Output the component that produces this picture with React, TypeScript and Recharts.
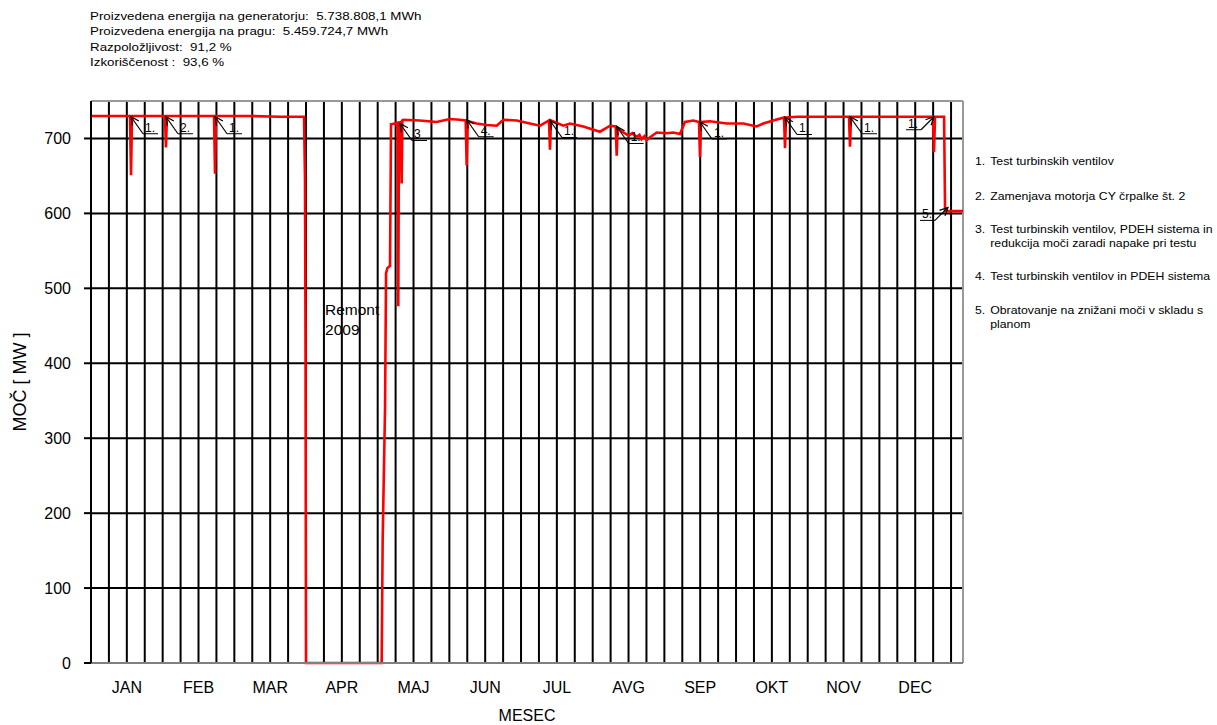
import { LineChart, Line, XAxis, YAxis, CartesianGrid, ReferenceLine, ReferenceDot } from 'recharts'

const MONTHS = ['JAN', 'FEB', 'MAR', 'APR', 'MAJ', 'JUN', 'JUL', 'AVG', 'SEP', 'OKT', 'NOV', 'DEC']
const Y_TICKS = [0, 100, 200, 300, 400, 500, 600, 700]

// hour of the year -> power on generator (MW)
const HOURS = [
  0, 200, 392, 402, 412, 600, 743, 753, 763, 1000, 1236, 1246, 1256, 1600, 1900, 2140, 2150, 2155, 2160,
  2920, 2930, 2954, 2964, 2977, 3004, 3014, 3050, 3080, 3087, 3094, 3110, 3121, 3128, 3137,
  3304, 3473, 3604, 3704, 3764, 3774, 3784, 3875, 3975, 4076, 4142, 4277, 4410, 4511, 4601, 4611, 4621,
  4745, 4812, 4946, 5113, 5214, 5271, 5281, 5291, 5347, 5400, 5440, 5481, 5510, 5530, 5560, 5582, 5610, 5630,
  5683, 5783, 5850, 5917, 5967, 6051, 6108, 6118, 6128, 6218, 6386, 6553, 6687, 6754, 6854, 6962, 6972, 6982,
  7100, 7391, 7615, 7625, 7635, 8057, 8459, 8469, 8479, 8570, 8580, 8760,
]
const POWER = [
  730, 730, 730, 651, 730, 730, 730, 688, 730, 730, 730, 653, 730, 730, 729, 729, 645, 430, 0,
  0, 164, 341, 520, 527, 530, 719, 720, 721, 476, 721, 722, 640, 724, 725,
  724, 722, 726, 725, 724, 664, 723, 720, 718, 717, 725, 724, 720, 717, 724, 685, 724,
  717, 720, 716, 709, 717, 716, 677, 714, 708, 704, 707, 702, 705, 699, 703, 698, 701, 703,
  708, 707, 708, 706, 722, 724, 722, 675, 722, 723, 720, 720, 716, 720, 724, 728, 687, 728,
  729, 729, 729, 689, 729, 729, 729, 682, 729, 729, 603, 603,
]

// event markers
const NOTE_HOURS = [402, 753, 1246, 3104, 3774, 4611, 5281, 6118, 6972, 7625, 8469, 8609]
const NOTE_POWER = [729, 729, 729, 720, 725, 724, 716, 722, 728, 729, 729, 608]
const NOTE_LABELS = ['1.', '2.', '1.', '3', '4.', '1.', '1.', '1.', '1.', '1.', '1.', '5.']
const NOTE_SIDE = ['L', 'L', 'L', 'L', 'L', 'L', 'L', 'L', 'L', 'L', 'R', 'R']

const HEADER_LINES = [
  'Proizvedena energija na generatorju:  5.738.808,1 MWh',
  'Proizvedena energija na pragu:  5.459.724,7 MWh',
  'Razpoložljivost:  91,2 %',
  'Izkoriščenost :  93,6 %',
]

const LEGEND_ITEMS = [
  { n: '1.', text: 'Test turbinskih ventilov', top: 154 },
  { n: '2.', text: 'Zamenjava motorja CY črpalke št. 2', top: 189 },
  { n: '3.', text: 'Test turbinskih ventilov, PDEH sistema in redukcija moči zaradi napake pri testu', top: 222 },
  { n: '4.', text: 'Test turbinskih ventilov in PDEH sistema', top: 269 },
  { n: '5.', text: 'Obratovanje na znižani moči v skladu s planom', top: 303 },
]

const data = HOURS.map((h, i) => ({ h, p: POWER[i] }))
const xTicks = Array.from({ length: 49 }, (_, i) => i * 180)

const FONT = '"Liberation Sans", Arial, sans-serif'

function Note(props: any) {
  const { cx, cy, label, side } = props
  const dx = side === 'L' ? 12 : -13
  const dy = side === 'L' ? 17 : 13
  const tx = cx + dx
  const ty = cy + dy
  const len = Math.hypot(dx, dy)
  const ux = dx / len
  const uy = dy / len
  const a = 0.45
  const hl = 9
  const h1x = cx + hl * (ux * Math.cos(a) - uy * Math.sin(a))
  const h1y = cy + hl * (ux * Math.sin(a) + uy * Math.cos(a))
  const h2x = cx + hl * (ux * Math.cos(-a) - uy * Math.sin(-a))
  const h2y = cy + hl * (ux * Math.sin(-a) + uy * Math.cos(-a))
  const ulX1 = side === 'L' ? tx : tx - 15
  const ulX2 = side === 'L' ? tx + 15 : tx
  return (
    <g>
      <line x1={cx} y1={cy} x2={tx} y2={ty} stroke="#000" strokeWidth={1.2} />
      <polyline points={`${h1x},${h1y} ${cx},${cy} ${h2x},${h2y}`} fill="none" stroke="#000" strokeWidth={1.2} />
      <line x1={ulX1} y1={ty} x2={ulX2} y2={ty} stroke="#000" strokeWidth={1} />
      <text x={ulX1 + 2} y={ty - 2} fontSize={12} fontFamily={FONT} fill="#000">{label}</text>
    </g>
  )
}

function RemontText(props: any) {
  const { cx, cy } = props
  return (
    <text x={cx} y={cy} fontSize={15.5} fontFamily={FONT} fill="#000">
      <tspan x={cx}>Remont</tspan>
      <tspan x={cx} dy={20}>2009</tspan>
    </text>
  )
}

export default function App() {
  return (
    <div style={{ position: 'absolute', left: 0, top: 0, width: 1217, height: 725, background: '#fff', fontFamily: FONT }}>
      <div
        style={{
          position: 'absolute', left: 90, top: 9, fontSize: 11.5, lineHeight: '15.4px', color: '#000',
          transform: 'scaleX(1.16)', transformOrigin: 'left top',
        }}
      >
        {HEADER_LINES.map((t, i) => (
          <div key={i} style={{ whiteSpace: 'pre' }}>{t}</div>
        ))}
      </div>

      <LineChart width={1217} height={725} data={data} margin={{ top: 101, right: 254, bottom: 2, left: 31 }}>
        <CartesianGrid stroke="#000" strokeWidth={2} />
        <XAxis
          dataKey="h"
          type="number"
          domain={[0, 8760]}
          ticks={xTicks}
          interval={0}
          height={60}
          tickLine={false}
          tickSize={0}
          tickMargin={19}
          axisLine={{ stroke: '#808080', strokeWidth: 2 }}
          tick={{ fill: '#000', fontSize: 16, fontFamily: FONT }}
          tickFormatter={(v: number) => ((v - 360) % 720 === 0 && v >= 360 ? MONTHS[(v - 360) / 720] : '')}
        />
        <YAxis
          type="number"
          domain={[0, 750]}
          ticks={Y_TICKS}
          interval={0}
          width={60}
          tickSize={7}
          tickMargin={13}
          tickLine={{ stroke: '#000', strokeWidth: 2 }}
          axisLine={{ stroke: '#000', strokeWidth: 2 }}
          tick={{ fill: '#000', fontSize: 16, fontFamily: FONT }}
        />
        <ReferenceLine y={750} stroke="#999" strokeWidth={2} />
        <ReferenceLine x={8760} stroke="#999" strokeWidth={2} />
        <Line
          type="linear"
          dataKey="p"
          stroke="#ff0000"
          strokeWidth={2.6}
          dot={false}
          isAnimationActive={false}
        />
        <ReferenceDot x={2351} y={464} r={0} shape={(p: any) => <RemontText {...p} />} />
        {NOTE_HOURS.map((h, i) => (
          <ReferenceDot
            key={i}
            x={h}
            y={NOTE_POWER[i]}
            r={0}
            shape={(p: any) => <Note {...p} label={NOTE_LABELS[i]} side={NOTE_SIDE[i]} />}
          />
        ))}
      </LineChart>

      <div
        style={{
          position: 'absolute', left: -80, top: 371, width: 200, textAlign: 'center',
          fontSize: 18, lineHeight: '22px', transform: 'rotate(-90deg)', color: '#000',
        }}
      >
        MOČ [ MW ]
      </div>
      <div style={{ position: 'absolute', left: 427, top: 706, width: 200, textAlign: 'center', fontSize: 16, lineHeight: '20px', color: '#000' }}>
        MESEC
      </div>

      {LEGEND_ITEMS.map((it, i) => (
        <div
          key={i}
          style={{
            position: 'absolute', left: 975, top: it.top, width: 206, display: 'flex', fontSize: 10.5,
            lineHeight: '14px', color: '#000', transform: 'scaleX(1.17)', transformOrigin: 'left top',
          }}
        >
          <span style={{ width: 13, flex: 'none' }}>{it.n}</span>
          <span>{it.text}</span>
        </div>
      ))}
    </div>
  )
}
